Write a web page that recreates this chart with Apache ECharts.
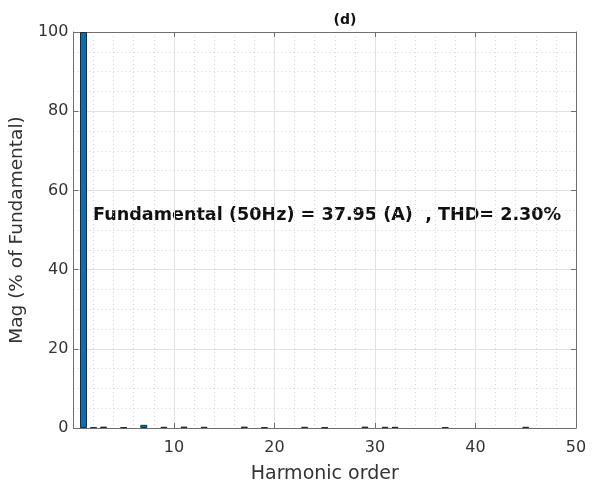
<!DOCTYPE html>
<html>
<head>
<meta charset="utf-8">
<script src="https://cdn.jsdelivr.net/npm/echarts@6/dist/echarts.min.js"></script>
<style>html,body{margin:0;padding:0;background:#fff}#c{width:597px;height:492px}</style>
</head>
<body>
<div id="c"></div>
<script>
// Harmonic orders and magnitudes (% of fundamental)
var harmonics = [1, 2, 3, 5, 7, 9, 11, 13, 17, 19, 23, 25, 29, 31, 32, 37, 45];
var mags      = [100, 0.25, 0.35, 0.2, 0.8, 0.3, 0.35, 0.3, 0.35, 0.2, 0.3, 0.15, 0.35, 0.3, 0.3, 0.25, 0.3];
var xTicks = [0, 10, 20, 30, 40, 50];
var yTicks = [0, 20, 40, 60, 80, 100];
var titleText = '(d)';
var noteText = 'Fundamental (50Hz) = 37.95 (A)  , THD= 2.30%';
var xName = 'Harmonic order';
var yName = 'Mag (% of Fundamental)';

var FONT = 'DejaVu Sans';
var barData = harmonics.map(function (h, i) { return [h, mags[i]]; });

var chart = echarts.init(document.getElementById('c'), null, {renderer: 'canvas'});
var axisLineColor = '#707070';
var majorGrid = {show: true, lineStyle: {color: '#e2e2e2', width: 1, type: 'solid'}};
var minorGrid = {show: true, lineStyle: {color: '#d4d4d4', width: 1, type: [1, 3]}};

chart.setOption({
  animation: false,
  backgroundColor: '#ffffff',
  grid: {left: 72, right: 21, top: 32, bottom: 64, containLabel: false},
  xAxis: [{
    type: 'value', min: xTicks[0], max: xTicks[xTicks.length - 1], interval: 10,
    position: 'bottom',
    name: xName, nameLocation: 'middle', nameGap: 37,
    nameTextStyle: {fontFamily: FONT, fontSize: 19, color: '#333333'},
    axisLine: {show: true, onZero: false, lineStyle: {color: axisLineColor, width: 1}},
    axisTick: {show: true, inside: true, length: 5, lineStyle: {color: axisLineColor}},
    axisLabel: {fontFamily: FONT, fontSize: 16, color: '#333333', margin: 12,
      formatter: function (v) { return v === 0 ? '' : String(v); }},
    splitLine: majorGrid,
    minorTick: {show: false, splitNumber: 5},
    minorSplitLine: minorGrid
  }, {
    type: 'value', min: xTicks[0], max: xTicks[xTicks.length - 1], interval: 10,
    position: 'top',
    axisLine: {show: true, onZero: false, lineStyle: {color: axisLineColor, width: 1}},
    axisTick: {show: true, inside: true, length: 5, lineStyle: {color: axisLineColor}},
    axisLabel: {show: false},
    splitLine: {show: false}
  }],
  yAxis: [{
    type: 'value', min: yTicks[0], max: yTicks[yTicks.length - 1], interval: 20,
    position: 'left',
    name: yName, nameLocation: 'middle', nameGap: 40, nameRotate: 90,
    nameTextStyle: {fontFamily: FONT, fontSize: 18.5, color: '#333333'},
    axisLine: {show: true, onZero: false, lineStyle: {color: axisLineColor, width: 1}},
    axisTick: {show: true, inside: true, length: 5, lineStyle: {color: axisLineColor}},
    axisLabel: {fontFamily: FONT, fontSize: 16, color: '#333333', margin: 5},
    splitLine: majorGrid,
    minorTick: {show: false, splitNumber: 4},
    minorSplitLine: minorGrid
  }, {
    type: 'value', min: yTicks[0], max: yTicks[yTicks.length - 1], interval: 20,
    position: 'right',
    axisLine: {show: true, onZero: false, lineStyle: {color: axisLineColor, width: 1}},
    axisTick: {show: true, inside: true, length: 5, lineStyle: {color: axisLineColor}},
    axisLabel: {show: false},
    splitLine: {show: false}
  }],
  series: [{
    type: 'bar',
    xAxisIndex: 0, yAxisIndex: 0,
    data: barData,
    barWidth: 7,
    itemStyle: {color: '#0072BD', borderColor: '#1f2a33', borderWidth: 1}
  }],
  graphic: [{
    type: 'text', x: 345, y: 20,
    style: {text: titleText, fontFamily: FONT, fontWeight: 'bold', fontSize: 14,
      fill: '#111111', textAlign: 'center', textVerticalAlign: 'middle'}
  }, {
    type: 'text', x: 93, y: 215,
    style: {text: noteText, fontFamily: FONT, fontWeight: 'bold', fontSize: 17.6,
      fill: '#111111', textAlign: 'left', textVerticalAlign: 'middle'}
  }]
});
</script>
</body>
</html>
